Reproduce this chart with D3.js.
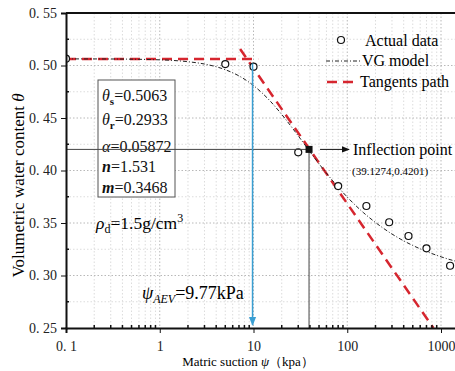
<!DOCTYPE html>
<html>
<head>
<meta charset="utf-8">
<script src="https://cdn.jsdelivr.net/npm/d3@7"></script>
<style>
    body { margin: 0; background: #fff; }
    .grid-minor line { stroke: #dcdcdc; stroke-dasharray: 1.5, 2; }
    .grid-major line { stroke: #b8b8b8; stroke-dasharray: 1.5, 2; }
    .axis path, .axis line { stroke: #111; }
</style>
</head>
<body>
<div id="chart"></div>
<script>
"use strict";

// measured points (matric suction in kPa, volumetric water content)
const suction = [0.1, 5, 10, 30, 80, 160, 280, 450, 700, 1250];
const theta = [0.5065, 0.5014, 0.4989, 0.4173, 0.3852, 0.3662, 0.3507, 0.3376, 0.3259, 0.3093];

// VG model curve
const vgSuction = [0.1, 0.3, 1, 2, 3, 5, 7, 10, 15, 20, 30, 39.13, 50, 70, 100, 150, 200, 300, 500, 700, 1000, 1500];
const vgTheta = [0.5063, 0.5062, 0.5054, 0.5036, 0.5014, 0.4960, 0.4901, 0.4809, 0.4663, 0.4534, 0.4330, 0.4190,
    0.4064, 0.3902, 0.3747, 0.3596, 0.3505, 0.3395, 0.3286, 0.3229, 0.3178, 0.3131];

// tangents path: flat line at theta_s and the tangent through the inflection point
const flatSuction = [0.1, 11.2];
const flatTheta = [0.5063, 0.5063];
const slopeSuction = [7.2, 830];
const slopeTheta = [0.5157, 0.25];

const inflection = [39.1274, 0.4201];
const aev = 9.77;
const aevTop = 0.502;

const xTicks = [0.1, 1, 10, 100, 1000];
const yTicks = [0.25, 0.30, 0.35, 0.40, 0.45, 0.50, 0.55];

const serif = "'Liberation Serif', 'DejaVu Serif', 'Times New Roman', serif";
const svgWidth = 455, svgHeight = 371;
const plotLeft = 66, plotTop = 13, plotBottom = 328;
const decade = 93.75;

const svg = d3.select("#chart")
    .append("svg")
    .attr("width", svgWidth)
    .attr("height", svgHeight)
    .attr("font-family", serif)
    .style("font-family", serif);

const x = d3.scaleLog()
    .domain([0.1, 1500])
    .range([plotLeft, plotLeft + Math.log10(15000) * decade]);
const y = d3.scaleLinear()
    .domain([0.25, 0.55])
    .range([plotBottom, plotTop]);

svg.append("clipPath")
    .attr("id", "clip")
    .append("rect")
    .attr("x", plotLeft)
    .attr("y", plotTop)
    .attr("width", svgWidth - plotLeft)
    .attr("height", plotBottom - plotTop);

// grid
const minorX = [];
for (let e = -1; e <= 3; ++e) {
    for (let k = 2; k <= 9; ++k) {
        minorX.push(k * Math.pow(10, e));
    }
}
const minorY = [0.275, 0.325, 0.375, 0.425, 0.475, 0.525];

const gMinor = svg.append("g").attr("class", "grid-minor");
gMinor.selectAll(".vx").data(minorX).enter().append("line")
    .attr("x1", d => x(d)).attr("x2", d => x(d))
    .attr("y1", plotTop).attr("y2", plotBottom);
gMinor.selectAll(".hy").data(minorY).enter().append("line")
    .attr("x1", plotLeft).attr("x2", svgWidth)
    .attr("y1", d => y(d)).attr("y2", d => y(d));

const gMajor = svg.append("g").attr("class", "grid-major");
gMajor.selectAll(".vx").data(xTicks.slice(1)).enter().append("line")
    .attr("x1", d => x(d)).attr("x2", d => x(d))
    .attr("y1", plotTop).attr("y2", plotBottom);
gMajor.selectAll(".hy").data(yTicks.slice(1, -1)).enter().append("line")
    .attr("x1", plotLeft).attr("x2", svgWidth)
    .attr("y1", d => y(d)).attr("y2", d => y(d));

// parameter box
svg.append("rect")
    .attr("x", 98).attr("y", 80)
    .attr("width", 77).attr("height", 117)
    .attr("fill", "#fff")
    .attr("stroke", "#555")
    .attr("stroke-width", 1);

function paramText(yPos, sym, sub, value, bold) {
    const t = svg.append("text")
        .attr("x", 102).attr("y", yPos)
        .attr("fill", "#111")
        .style("font-size", "16px");
    t.append("tspan")
        .style("font-style", "italic")
        .style("font-weight", bold ? "bold" : "normal")
        .text(sym);
    if (sub) {
        t.append("tspan")
            .attr("dy", 4)
            .style("font-size", "11px")
            .style("font-weight", "bold")
            .text(sub);
        t.append("tspan").attr("dy", -4).text(value);
    } else {
        t.append("tspan").text(value);
    }
}
paramText(101, "θ", "s", "=0.5063", false);
paramText(125, "θ", "r", "=0.2933", false);
paramText(152, "α", null, "=0.05872", false);
paramText(172, "n", null, "=1.531", true);
paramText(193, "m", null, "=0.3468", true);

const rho = svg.append("text")
    .attr("x", 96).attr("y", 229)
    .style("font-size", "17.5px");
rho.append("tspan").style("font-style", "italic").text("ρ");
rho.append("tspan").attr("dy", 4).style("font-size", "12px").text("d");
rho.append("tspan").attr("dy", -4).text("=1.5g/cm");
rho.append("tspan").attr("dy", -7).style("font-size", "12px").text("3");

const psi = svg.append("text")
    .attr("x", 142).attr("y", 299)
    .style("font-size", "18px");
psi.append("tspan").style("font-style", "italic").text("ψ");
psi.append("tspan").attr("dy", 4).style("font-size", "12px").style("font-style", "italic").text("AEV");
psi.append("tspan").attr("dy", -4).text("=9.77kPa");

// curves
const plot = svg.append("g").attr("clip-path", "url(#clip)");
const line = d3.line()
    .x(d => x(d[0]))
    .y(d => y(d[1]));

plot.append("path")
    .datum(d3.zip(flatSuction, flatTheta))
    .attr("d", line)
    .attr("fill", "none")
    .attr("stroke", "#d6262f")
    .attr("stroke-width", 2.5)
    .attr("stroke-dasharray", "10,6");
plot.append("path")
    .datum(d3.zip(slopeSuction, slopeTheta))
    .attr("d", line)
    .attr("fill", "none")
    .attr("stroke", "#d6262f")
    .attr("stroke-width", 2.5)
    .attr("stroke-dasharray", "10,6");

plot.append("path")
    .datum(d3.zip(vgSuction, vgTheta))
    .attr("d", line.curve(d3.curveMonotoneX))
    .attr("fill", "none")
    .attr("stroke", "#222")
    .attr("stroke-width", 1)
    .attr("stroke-dasharray", "4,2,1,2");

// inflection guide lines
svg.append("line")
    .attr("x1", plotLeft).attr("x2", x(inflection[0]))
    .attr("y1", y(inflection[1])).attr("y2", y(inflection[1]))
    .attr("stroke", "#444").attr("stroke-width", 1);
svg.append("line")
    .attr("x1", x(inflection[0])).attr("x2", x(inflection[0]))
    .attr("y1", y(inflection[1])).attr("y2", plotBottom)
    .attr("stroke", "#444").attr("stroke-width", 1);

// arrow heads
const defs = svg.append("defs");
defs.append("marker")
    .attr("id", "arrow-black")
    .attr("viewBox", "0 0 10 10")
    .attr("refX", 9).attr("refY", 5)
    .attr("markerWidth", 8).attr("markerHeight", 8)
    .attr("markerUnits", "userSpaceOnUse")
    .attr("orient", "auto")
    .append("path").attr("d", "M0,1L10,5L0,9Z").attr("fill", "#111");
defs.append("marker")
    .attr("id", "arrow-blue")
    .attr("viewBox", "0 0 10 10")
    .attr("refX", 9).attr("refY", 5)
    .attr("markerWidth", 9).attr("markerHeight", 9)
    .attr("markerUnits", "userSpaceOnUse")
    .attr("orient", "auto")
    .append("path").attr("d", "M0,1L10,5L0,9Z").attr("fill", "#3a9fd3");

// AEV arrow
svg.append("line")
    .attr("x1", x(aev)).attr("x2", x(aev))
    .attr("y1", y(aevTop)).attr("y2", plotBottom - 3)
    .attr("stroke", "#3a9fd3")
    .attr("stroke-width", 1.5)
    .attr("marker-end", "url(#arrow-blue)");

// data points
plot.selectAll(".pt")
    .data(d3.zip(suction, theta))
    .enter()
    .append("circle")
    .attr("cx", d => x(d[0]))
    .attr("cy", d => y(d[1]))
    .attr("r", 3.5)
    .attr("fill", "#fff")
    .attr("stroke", "#111")
    .attr("stroke-width", 1.2);

// inflection point
const ix = x(inflection[0]), iy = y(inflection[1]);
svg.append("rect")
    .attr("x", ix - 3.5).attr("y", iy - 3.5)
    .attr("width", 7).attr("height", 7)
    .attr("fill", "#111");
svg.append("line")
    .attr("x1", ix + 11).attr("x2", ix + 40)
    .attr("y1", iy).attr("y2", iy)
    .attr("stroke", "#111")
    .attr("stroke-width", 1)
    .attr("marker-end", "url(#arrow-black)");
svg.append("text")
    .attr("x", ix + 44).attr("y", iy + 6)
    .style("font-size", "16px")
    .text("Inflection point");
svg.append("text")
    .attr("x", ix + 43).attr("y", iy + 26)
    .style("font-size", "11px")
    .text(`(${inflection[0]},${inflection[1]})`);

// axes
const xAxis = d3.axisBottom(x)
    .tickValues(xTicks)
    .tickSize(5)
    .tickFormat(d => d < 1 ? "0. 1" : String(d));
const yAxis = d3.axisLeft(y)
    .tickValues(yTicks)
    .tickSize(5)
    .tickFormat(d => d3.format(".2f")(d).replace(".", ". "));

svg.append("g")
    .attr("class", "axis")
    .attr("transform", `translate(0,${plotBottom})`)
    .call(xAxis)
    .attr("font-family", serif)
    .attr("font-size", 14)
    .call(g => g.select(".domain").attr("stroke-width", 2))
    .call(g => g.selectAll("text").attr("fill", "#222").attr("dy", "1.05em"));
svg.append("g")
    .attr("class", "axis")
    .attr("transform", `translate(${plotLeft},0)`)
    .call(yAxis)
    .attr("font-family", serif)
    .attr("font-size", 14)
    .call(g => g.select(".domain").attr("stroke-width", 2))
    .call(g => g.selectAll("text").attr("fill", "#222").attr("x", -9));

// minor ticks, pointing inward
svg.append("g").selectAll("line").data(minorX.filter(d => d < 1500)).enter().append("line")
    .attr("x1", d => x(d)).attr("x2", d => x(d))
    .attr("y1", plotBottom).attr("y2", plotBottom - 3)
    .attr("stroke", "#111").attr("stroke-width", 1.5);
svg.append("g").selectAll("line").data(minorY).enter().append("line")
    .attr("x1", plotLeft).attr("x2", plotLeft + 3)
    .attr("y1", d => y(d)).attr("y2", d => y(d))
    .attr("stroke", "#111").attr("stroke-width", 1.5);

// top frame
svg.append("line")
    .attr("x1", plotLeft).attr("x2", svgWidth)
    .attr("y1", plotTop).attr("y2", plotTop)
    .attr("stroke", "#111").attr("stroke-width", 2);

// axis titles
const xt = svg.append("text")
    .attr("x", 248).attr("y", 366)
    .attr("text-anchor", "middle")
    .style("font-size", "13px");
xt.append("tspan").text("Matric suction ");
xt.append("tspan").style("font-style", "italic").text("ψ");
xt.append("tspan").text("（kpa）");

const yt = svg.append("text")
    .attr("text-anchor", "middle")
    .attr("transform", `translate(24,${(plotTop + plotBottom) / 2 + 15}) rotate(-90)`)
    .style("font-size", "17px");
yt.append("tspan").text("Volumetric water content ");
yt.append("tspan").style("font-style", "italic").text("θ");

// legend
const legend = svg.append("g");
legend.append("circle")
    .attr("cx", 341).attr("cy", 40).attr("r", 3.5)
    .attr("fill", "#fff").attr("stroke", "#111").attr("stroke-width", 1.2);
legend.append("text").attr("x", 365).attr("y", 46).style("font-size", "16px").text("Actual data");
legend.append("line")
    .attr("x1", 326).attr("x2", 360).attr("y1", 61).attr("y2", 61)
    .attr("stroke", "#222").attr("stroke-dasharray", "4,2,1,2");
legend.append("text").attr("x", 362).attr("y", 66).style("font-size", "16px").text("VG model");
legend.append("line")
    .attr("x1", 327).attr("x2", 357).attr("y1", 82).attr("y2", 82)
    .attr("stroke", "#d6262f").attr("stroke-width", 2.5).attr("stroke-dasharray", "10,6");
legend.append("text").attr("x", 360).attr("y", 87).style("font-size", "16px").text("Tangents path");
</script>
</body>
</html>
